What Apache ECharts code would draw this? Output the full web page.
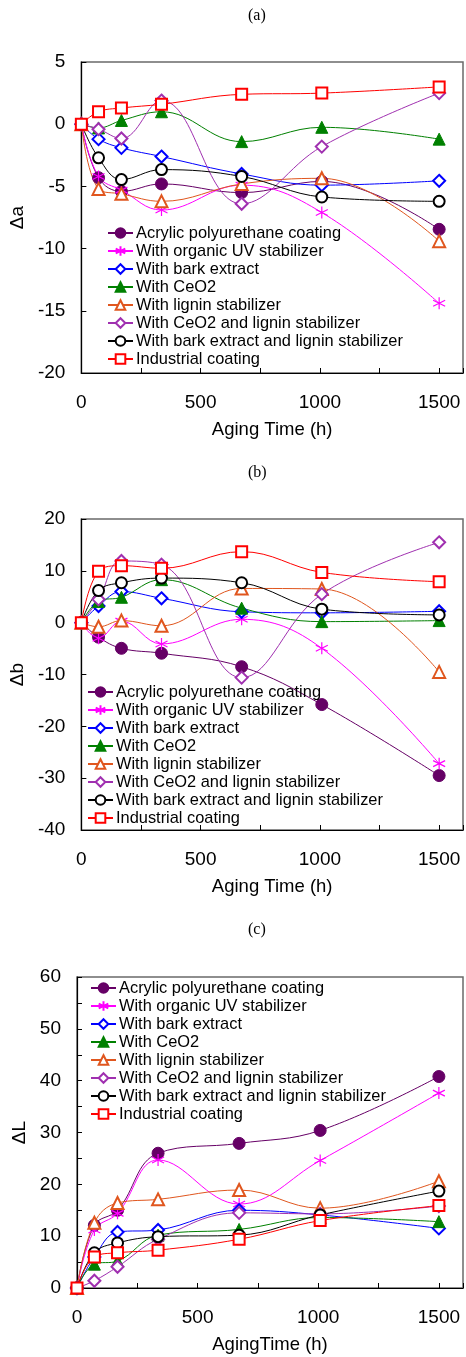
<!DOCTYPE html>
<html>
<head>
<meta charset="utf-8">
<script src="https://cdn.jsdelivr.net/npm/echarts@6/dist/echarts.min.js"></script>
<style>
html,body{margin:0;padding:0;background:#fff;}
#chart{width:466px;height:1357px;}
</style>
</head>
<body>
<div id="chart"></div>
<script>
// ---------- data ----------
const hours = [0, 72, 168, 336, 672, 1008, 1500];
const seriesNames = [
  'Acrylic polyurethane coating',
  'With organic UV stabilizer',
  'With bark extract',
  'With CeO2',
  'With lignin stabilizer',
  'With CeO2 and lignin stabilizer',
  'With bark extract and lignin stabilizer',
  'Industrial coating'
];
const panelTitles = ['(a)', '(b)', '(c)'];
const yNames = ['\u0394a', '\u0394b', '\u0394L'];
const xNames = ['Aging Time (h)', 'Aging Time (h)', 'AgingTime (h)'];

// Δa
const daAcrylic    = [0, -4.3, -5.4, -4.8, -5.5, -4.6, -8.45];
const daUV         = [0, -4.2, -5.3, -6.9, -4.9, -7.1, -14.4];
const daBark       = [0, -1.2, -1.9, -2.6, -4.0, -4.9, -4.55];
const daCeO2       = [0, -0.3, 0.3, 1.0, -1.4, -0.25, -1.2];
const daLignin     = [0, -5.2, -5.6, -6.2, -4.8, -4.35, -9.4];
const daCeO2Lignin = [0, -0.4, -1.15, 1.9, -6.4, -1.8, 2.5];
const daBarkLignin = [0, -2.7, -4.45, -3.65, -4.2, -5.85, -6.2];
const daIndustrial = [0, 1.0, 1.3, 1.6, 2.4, 2.5, 3.0];

// Δb
const dbAcrylic    = [0, -2.8, -4.95, -5.9, -8.5, -15.8, -29.5];
const dbUV         = [0, -3.0, 0.3, -4.1, 0.65, -4.95, -27.2];
const dbBark       = [0, 3.2, 6.0, 4.7, 2.1, 1.9, 2.2];
const dbCeO2       = [0, 4.1, 4.9, 8.3, 2.8, 0.2, 0.4];
const dbLignin     = [0, -0.8, 0.4, -0.6, 6.6, 6.5, -9.5];
const dbCeO2Lignin = [0, 4.5, 11.9, 11.2, -10.6, 5.5, 15.5];
const dbBarkLignin = [0, 6.2, 7.7, 8.6, 7.7, 2.6, 1.5];
const dbIndustrial = [0, 9.9, 11.0, 10.5, 13.7, 9.7, 7.9];

// ΔL
const dlAcrylic    = [0, 12.1, 15.0, 26.0, 27.9, 30.4, 40.8];
const dlUV         = [0, 11.2, 14.4, 24.7, 16.2, 24.6, 37.6];
const dlBark       = [0, 6.0, 10.8, 11.2, 15.0, 14.1, 11.5];
const dlCeO2       = [0, 4.6, 5.2, 10.2, 11.3, 13.6, 12.8];
const dlLignin     = [0, 12.6, 16.4, 17.1, 18.9, 15.4, 20.6];
const dlCeO2Lignin = [0, 1.4, 4.1, 9.4, 14.5, 14.3, 15.8];
const dlBarkLignin = [0, 6.8, 8.7, 9.9, 10.2, 14.1, 18.7];
const dlIndustrial = [0, 6.0, 6.8, 7.3, 9.4, 13.0, 15.9];

const panelData = [
  [daAcrylic, daUV, daBark, daCeO2, daLignin, daCeO2Lignin, daBarkLignin, daIndustrial],
  [dbAcrylic, dbUV, dbBark, dbCeO2, dbLignin, dbCeO2Lignin, dbBarkLignin, dbIndustrial],
  [dlAcrylic, dlUV, dlBark, dlCeO2, dlLignin, dlCeO2Lignin, dlBarkLignin, dlIndustrial]
];
const yMin = [-20, -40, 0];
const yMax = [5, 20, 60];
const yInterval = [5, 10, 5];
const yLabelStep = [5, 10, 10];

// ---------- styles ----------
const asterisk = 'path://M0,-10L0,10M-8.66,-5L8.66,5M-8.66,5L8.66,-5';
const styles = [
  {color: '#660066', symbol: 'circle', size: 12},
  {color: '#FF00FF', symbol: asterisk, size: 12},
  {color: '#0000FF', symbol: 'emptyDiamond', size: 12},
  {color: '#008000', symbol: 'triangle', size: 12},
  {color: '#E0561E', symbol: 'emptyTriangle', size: 12},
  {color: '#A030B0', symbol: 'emptyDiamond', size: 12},
  {color: '#000000', symbol: 'emptyCircle', size: 11},
  {color: '#FF0000', symbol: 'emptyRect', size: 11}
];

const gridTops = [62, 519, 977];
const gridH = 311;
const legendPos = [{left: 107, top: 224}, {left: 87, top: 683}, {left: 90, top: 979}];
const titleY = [18, 475, 932];

const FONT = 'Liberation Sans, Arial, sans-serif';

const grids = [], xAxes = [], yAxes = [], legends = [], series = [], graphics = [];
for (let p = 0; p < 3; p++) {
  grids.push({left: 77, width: 386, top: gridTops[p], height: gridH, show: true,
    borderColor: '#6a6a6a', borderWidth: 1.5, backgroundColor: 'transparent', containLabel: false});
  xAxes.push({
    type: 'value', gridIndex: p, min: 0, max: 1600, interval: 250,
    name: xNames[p], nameLocation: 'middle', nameGap: 47,
    nameTextStyle: {fontFamily: FONT, fontSize: 18.5, color: '#000'},
    axisLine: {show: true, onZero: false, lineStyle: {color: '#000', width: 1.2}},
    axisTick: {show: true, inside: true, length: 5, lineStyle: {color: '#000'}},
    axisLabel: {margin: 20, fontFamily: FONT, fontSize: 19, color: '#000',
      formatter: v => (v % 500 === 0 ? String(v) : '')},
    splitLine: {show: false}
  });
  yAxes.push({
    type: 'value', gridIndex: p, min: yMin[p], max: yMax[p], interval: yInterval[p],
    name: yNames[p], nameLocation: 'middle', nameGap: 47,
    nameTextStyle: {fontFamily: FONT, fontSize: 19, color: '#000'},
    axisLine: {show: true, onZero: false, lineStyle: {color: '#000', width: 1.2}},
    axisTick: {show: true, inside: true, length: 5, lineStyle: {color: '#000'}},
    axisLabel: {margin: 16, fontFamily: FONT, fontSize: 19, color: '#000',
      formatter: (function (step) { return v => (v % step === 0 ? String(v) : ''); })(yLabelStep[p])},
    splitLine: {show: false}
  });
  legends.push({
    orient: 'vertical', left: legendPos[p].left, top: legendPos[p].top,
    padding: 0, itemGap: 0, itemWidth: 25, itemHeight: 12,
    textStyle: {fontFamily: FONT, fontSize: 16.4, color: '#000', lineHeight: 18, padding: [0, 0, 0, -2]},
    data: seriesNames, selectedMode: false
  });
  graphics.push({type: 'text', left: 248, top: titleY[p] - 10,
    style: {text: panelTitles[p], font: '16px "Liberation Serif", "Times New Roman", serif', fill: '#000'}});
  for (let s = 0; s < 8; s++) {
    const st = styles[s];
    const vals = panelData[p][s];
    series.push({
      type: 'line', name: seriesNames[s], xAxisIndex: p, yAxisIndex: p,
      data: hours.map((h, i) => [h, vals[i]]),
      smooth: 0.4, clip: false,
      symbol: st.symbol, symbolSize: st.size, showSymbol: true,
      lineStyle: {color: st.color, width: 1},
      itemStyle: {color: st.color, borderColor: st.color, borderWidth: s === 1 ? 1.2 : 1},
      emphasis: {disabled: true}, animation: false
    });
  }
}

const chart = echarts.init(document.getElementById('chart'), null, {renderer: 'canvas'});
chart.setOption({
  backgroundColor: '#fff', animation: false,
  grid: grids, xAxis: xAxes, yAxis: yAxes, legend: legends, series: series, graphic: graphics
});
</script>
</body>
</html>
